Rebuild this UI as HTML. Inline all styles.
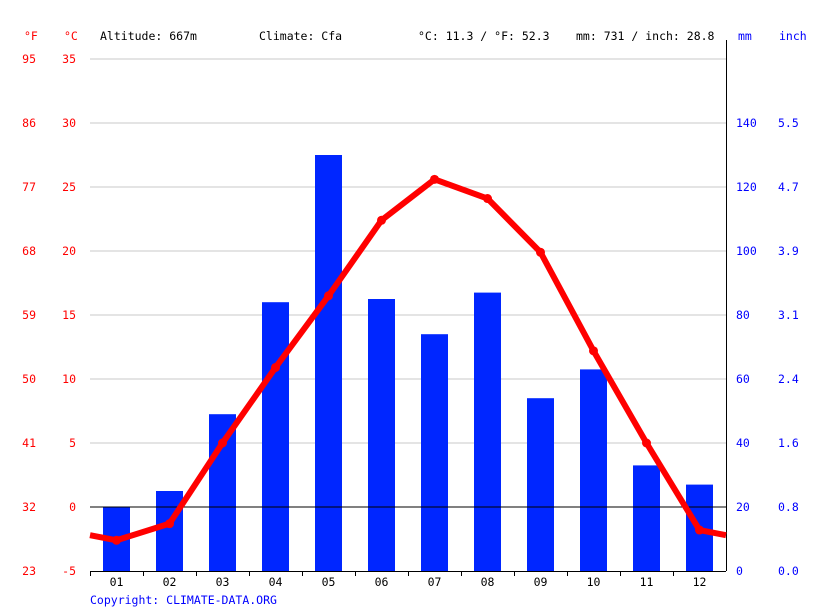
<!DOCTYPE html>
<html><head><meta charset="utf-8"><style>
body{margin:0;background:#fff}
svg text{font-family:"DejaVu Sans Mono","Liberation Mono",monospace;font-size:11.5px}
</style></head><body>
<svg id="c" width="815" height="611" xmlns="http://www.w3.org/2000/svg">
<g id="grid"></g>
<g id="bars"></g>
<g id="axes"></g>
<g id="line"></g>
<g>
<text x="24" y="40" fill="#f00">°F</text>
<text x="64" y="40" fill="#f00">°C</text>
<text x="100" y="40" fill="#000">Altitude: 667m</text>
<text x="259" y="40" fill="#000">Climate: Cfa</text>
<text x="418" y="40" fill="#000">°C: 11.3 / °F: 52.3</text>
<text x="576" y="40" fill="#000">mm: 731 / inch: 28.8</text>
<text x="738" y="40" fill="#0000ff">mm</text>
<text x="779" y="40" fill="#0000ff">inch</text>
<text x="90" y="604" fill="#0000ff">Copyright: CLIMATE-DATA.ORG</text>
</g>
</svg>
<script>
const months=["01","02","03","04","05","06","07","08","09","10","11","12"];
const precip=[20,25,49,84,130,85,74,87,54,63,33,27];
const temps=[-2.6,-1.3,5.0,10.9,16.5,22.4,25.6,24.1,19.9,12.2,5.0,-1.8];
const cTicks=[-5,0,5,10,15,20,25,30,35];
const fTicks=["23","32","41","50","59","68","77","86","95"];
const mmTicks=[0,20,40,60,80,100,120,140];
const inTicks=["0.0","0.8","1.6","2.4","3.1","3.9","4.7","5.5"];
const NS="http://www.w3.org/2000/svg";
const X0=90,X1=726,W=(X1-X0)/12;
const yT=t=>507-t*12.8, yP=p=>571-p*3.2, xM=i=>X0+W*(i+0.5);
function mk(tag,attrs,parent,txt){const e=document.createElementNS(NS,tag);for(const k in attrs)e.setAttribute(k,attrs[k]);if(txt!==undefined)e.textContent=txt;document.getElementById(parent).appendChild(e);return e;}
cTicks.forEach((t,i)=>{const y=yT(t);
 if(t!==-5&&t!==0){const l=mk('line',{x1:X0,x2:X1,y1:y,y2:y,stroke:'#c8c8c8','stroke-width':1},'grid');
 
 }
 const a=mk('text',{x:76,y:y+4,fill:'#f00','text-anchor':'end'},'axes',String(t));
 
 
 const b=mk('text',{x:36,y:y+4,fill:'#f00','text-anchor':'end'},'axes',fTicks[i]);
 
 
});
mmTicks.forEach((m,i)=>{const y=yP(m);
 const a=mk('text',{x:736,y:y+4,fill:'#0000ff'},'axes',String(m));
 
 
 const b=mk('text',{x:778,y:y+4,fill:'#0000ff'},'axes',inTicks[i]);
 
 
});
precip.forEach((p,i)=>{const r=mk('rect',{x:xM(i)-13.5,y:yP(p),width:27,height:571-yP(p),fill:'#0026ff'},'bars');
 
 
});
let z=mk('line',{x1:X0,x2:X1,y1:yT(0),y2:yT(0),stroke:'#000','stroke-width':1},'axes');


let ax=mk('line',{x1:X0,x2:X1,y1:571.5,y2:571.5,stroke:'#000'},'axes');


let ra=mk('line',{x1:726.5,x2:726.5,y1:40,y2:571,stroke:'#000'},'axes');


months.forEach((m,i)=>{const t=mk('text',{x:xM(i),y:586,'text-anchor':'middle',fill:'#000'},'axes',m);
 
 
 const k=mk('line',{x1:X0+W*i+0.5,x2:X0+W*i+0.5,y1:571,y2:576,stroke:'#000'},'axes');
 
 
});
const edge=(temps[0]+temps[11])/2;
let pts=[[X0,yT(edge)]];temps.forEach((t,i)=>pts.push([xM(i),yT(t)]));pts.push([X1,yT(edge)]);
const pl=mk('polyline',{points:pts.map(p=>p.join(',')).join(' '),fill:'none',stroke:'#f00','stroke-width':6,'stroke-linejoin':'round'},'line');


temps.forEach((t,i)=>{const c=mk('circle',{cx:xM(i),cy:yT(t),r:4.5,fill:'#f00'},'line');
 
 
});
</script>
</body></html>
